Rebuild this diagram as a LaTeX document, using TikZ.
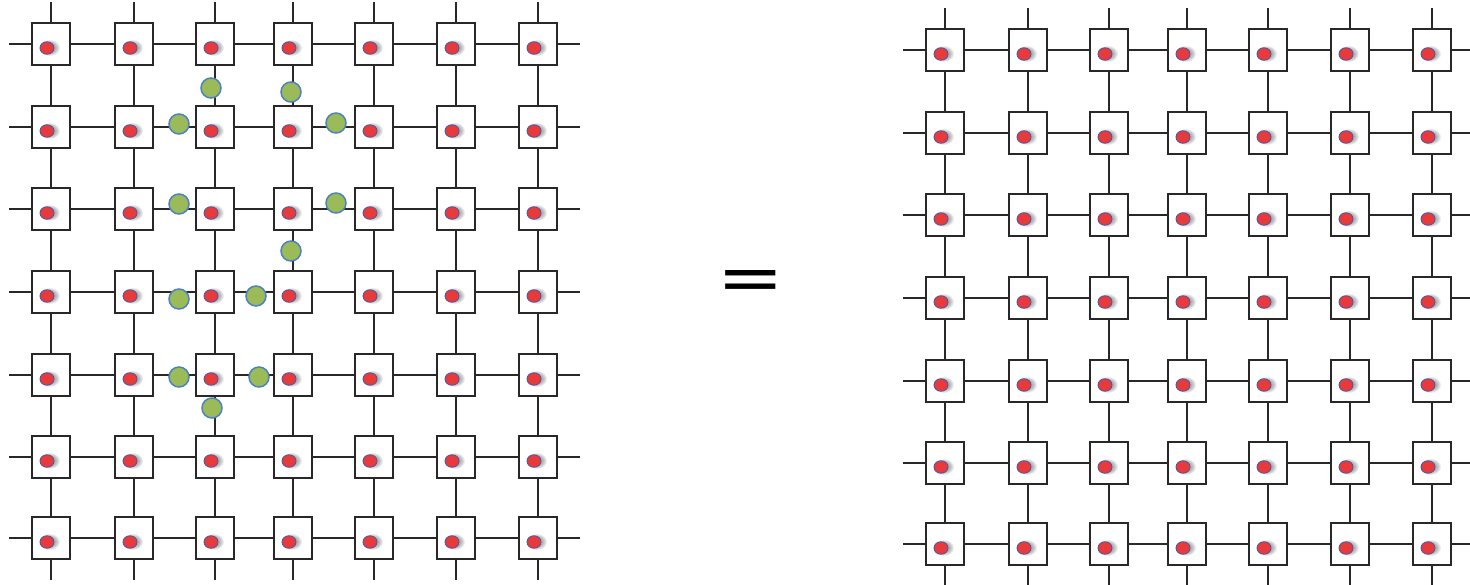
\documentclass[tikz,border=0pt]{standalone}
\usepackage{fontspec}
\newfontfamily\eqfont{Liberation Sans}
\usetikzlibrary{shapes.geometric}

\definecolor{dotred}{RGB}{232,58,58}
\definecolor{dotrim}{RGB}{85,85,160}
\definecolor{leaf}{RGB}{155,187,89}
\definecolor{rim}{RGB}{79,129,189}
\definecolor{wire}{RGB}{40,40,40}

\begin{document}
\begin{tikzpicture}[x=1pt, y=-1pt,
    wire/.style={line width=1.6pt, draw=wire},
    cell/.style={draw=wire, line width=1.6pt, fill=white, minimum width=38pt,
        minimum height=42pt, inner sep=0pt},
    haze/.style={fill=black, opacity=0.07},
    rdot/.style={ellipse, fill=dotred, draw=dotrim, line width=0.9pt,
        minimum width=14pt, minimum height=12.5pt, inner sep=0pt},
    gdot/.style={circle, fill=leaf, draw=rim, line width=1.5pt,
        minimum size=20pt, inner sep=0pt}]

    \useasboundingbox (0,0) rectangle (1470,584);

    % --- the two 7x7 lattices (left one shifted copy on the right)
    \foreach \g/\dx/\dy in {l/0/0, r/894/6} {
        \foreach \x [count=\c] in {51,134,215,293,374,456,538} {
            \foreach \y [count=\r] in {44,127,209,292,375,457,538} {
                \node[cell] (\g-\r-\c) at (\x+\dx,\y+\dy) {};
                \foreach \s in {1,...,5}
                    \fill[haze] ([shift={(-1,4)}]\g-\r-\c.center) ellipse ({5+\s} and {4+0.8*\s});
                \node[rdot] (\g-d-\r-\c) at ([shift={(-4,4)}]\g-\r-\c.center) {};
            }
        }
    }

    % --- links between neighbouring cells, and open ends at the border
    \foreach \g in {l,r} {
        \foreach \r in {1,...,7} {
            \foreach \c [evaluate=\c as \n using int(\c+1)] in {1,...,6} {
                \draw[wire] (\g-\r-\c) -- (\g-\r-\n);
                \draw[wire] (\g-\c-\r) -- (\g-\n-\r);
            }
            \draw[wire] (\g-\r-1.west) -- ++(-22,0);
            \draw[wire] (\g-\r-7.east) -- ++(22,0);
            \draw[wire] (\g-1-\r.north) -- ++(0,-20);
            \draw[wire] (\g-7-\r.south) -- ++(0,20);
        }
    }

    % --- green markers on the left lattice
    \foreach \x/\y [count=\k] in {211/88, 291/92, 179/124, 336/123, 179/204,
            336/203, 291/251, 179/299, 256/296, 179/377, 259/377, 212/408} {
        \node[gdot] (m\k) at (\x,\y) {};
    }

    % --- equals sign
    \node (eq) at (751,283) {\eqfont\bfseries\fontsize{100}{100}\selectfont\scalebox{1}[0.5]{=}};

\end{tikzpicture}
\end{document}
